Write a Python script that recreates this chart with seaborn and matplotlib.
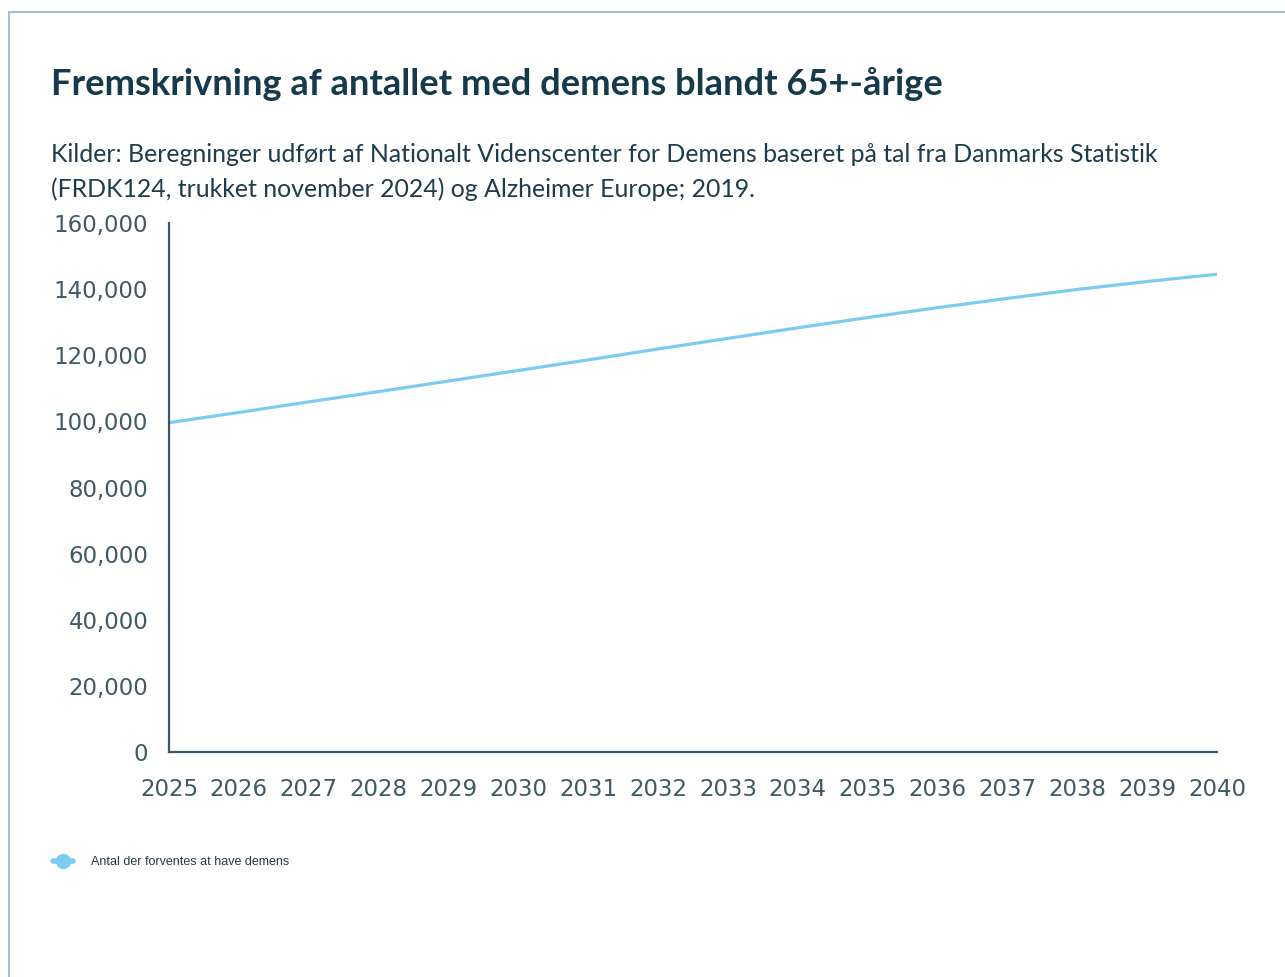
import pandas as pd
import matplotlib.pyplot as plt
import seaborn as sns
from matplotlib.lines import Line2D
from matplotlib.patches import Rectangle
from matplotlib.ticker import FuncFormatter

# data
years = list(range(2025, 2041))
dementia = [99600, 102700, 105900, 109000, 112200, 115400, 118600, 121900,
            125100, 128300, 131400, 134400, 137200, 139900, 142300, 144500]
series_name = 'Antal der forventes at have demens'

df = pd.DataFrame({'year': years, 'count': dementia})

sns.set_style('white')
plt.rcParams['font.family'] = ['DejaVu Sans']

line_color = '#7ccbf0'
axis_color = '#3d5762'
tick_color = '#3f5a65'
title_color = '#153a4b'

fig = plt.figure(figsize=(12.85, 9.77), dpi=100)
ax = fig.add_axes([169 / 1285, 1 - 752 / 977, (1217 - 169) / 1285, (752 - 223) / 977])

sns.lineplot(data=df, x='year', y='count', ax=ax, color=line_color, linewidth=2.3)

ax.set_xlim(2025, 2040)
ax.set_ylim(0, 160000)
ax.set_xticks(years)
ax.set_yticks(range(0, 160001, 20000))
ax.yaxis.set_major_formatter(FuncFormatter(lambda v, p: f'{int(v):,}'))
ax.set_xlabel('')
ax.set_ylabel('')
ax.tick_params(axis='both', length=0, labelsize=16.5, labelcolor=tick_color)
ax.tick_params(axis='y', pad=15)
ax.tick_params(axis='x', pad=19)
sns.despine(ax=ax)
for s in ['left', 'bottom']:
    ax.spines[s].set_color(axis_color)
    ax.spines[s].set_linewidth(1.6)

# title and source
fig.text(51 / 1285, 1 - 95 / 977, 'Fremskrivning af antallet med demens blandt 65+-årige',
         family='Lato', fontweight='bold', fontsize=26.1, color=title_color, va='baseline')
fig.text(51 / 1285, 1 - 162 / 977,
         'Kilder: Beregninger udført af Nationalt Videnscenter for Demens baseret på tal fra Danmarks Statistik',
         family='Lato', fontsize=17.95, color='#1d3d4d', va='baseline')
fig.text(51 / 1285, 1 - 197 / 977,
         '(FRDK124, trukket november 2024) og Alzheimer Europe; 2019.',
         family='Lato', fontsize=17.95, color='#1d3d4d', va='baseline')

# legend
handle = Line2D([], [], color=line_color, linewidth=4, marker='o', markersize=10)
leg = fig.legend([handle], [series_name], loc='center left',
                 bbox_to_anchor=(42 / 1285, 1 - 862 / 977), frameon=False,
                 handlelength=1.6, handletextpad=1.4,
                 prop={'family': 'Liberation Sans', 'size': 9})
for t in leg.get_texts():
    t.set_color('#1d3d4d')

# outer frame (only top and left edges visible in the reference)
fig.patches.append(Rectangle((9 / 1285, -0.1), 1.2, 1.1 - 12 / 977,
                             transform=fig.transFigure, fill=False,
                             edgecolor='#9fc2db', linewidth=1.5))

plt.savefig('out.png', dpi=100)
